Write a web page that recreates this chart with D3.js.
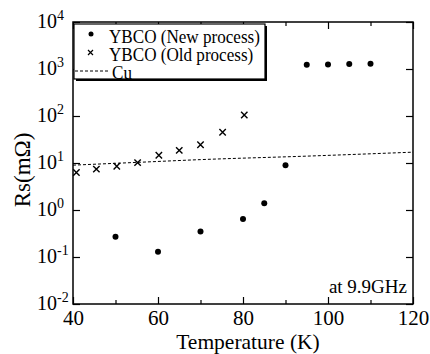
<!DOCTYPE html>
<html>
<head>
<meta charset="utf-8">
<script src="https://cdn.jsdelivr.net/npm/d3@7"></script>
</head>
<body style="margin:0">
<svg id="chart" width="430" height="354"></svg>
<script>
// Rs vs temperature, 9.9 GHz
const newTemps = [50, 60, 70, 80, 85, 90, 95, 100, 105, 110];
const newRs = [0.27, 0.13, 0.35, 0.64, 1.4, 9.0, 1230, 1250, 1270, 1300];

const oldTemps = [40.8, 45.5, 50.3, 55.2, 60.2, 65, 70, 75.2, 80.3];
const oldRs = [6.3, 7.4, 8.5, 10.2, 14.6, 18.6, 24.5, 45, 105];

const cuTemps = [40, 55, 70, 95, 120];
const cuRs = [9.0, 10.3, 11.8, 14.0, 17.0];

const xMajor = [40, 60, 80, 100, 120];
const xMinor = [50, 70, 90, 110];
const yMajor = [1e-2, 1e-1, 1e0, 1e1, 1e2, 1e3, 1e4];
const yExp = ["-2", "-1", "0", "1", "2", "3", "4"];

const legendLabels = ["YBCO (New process)", "YBCO (Old process)", "Cu"];

const FONT = "'Liberation Serif'";

const svg = d3.select("#chart");
const L = 73, R = 413, T = 22, B = 304;

const x = d3.scaleLinear().domain([40, 120]).range([L, R]);
const y = d3.scaleLog().domain([1e-2, 1e4]).range([B, T]);

// ticks (inward)
function styleAxis(g) {
  g.select(".domain").remove();
  g.selectAll(".tick line").attr("stroke", "#000").attr("stroke-width", 1.2);
  g.selectAll(".tick text").attr("font-family", FONT);
}

svg.append("g").attr("transform", `translate(0,${B})`)
  .call(d3.axisBottom(x).tickValues(xMajor).tickSize(-7).tickPadding(6).tickFormat(d3.format("d")))
  .call(styleAxis)
  .call(g => g.selectAll("text").attr("font-size", 21).attr("fill", "#000"));
svg.append("g").attr("transform", `translate(0,${B})`)
  .call(d3.axisBottom(x).tickValues(xMinor).tickSize(-4).tickFormat(""))
  .call(styleAxis);
svg.append("g").attr("transform", `translate(0,${T})`)
  .call(d3.axisTop(x).tickValues(xMajor).tickSize(-7).tickFormat(""))
  .call(styleAxis);
svg.append("g").attr("transform", `translate(0,${T})`)
  .call(d3.axisTop(x).tickValues(xMinor).tickSize(-4).tickFormat(""))
  .call(styleAxis);
svg.append("g").attr("transform", `translate(${L},0)`)
  .call(d3.axisLeft(y).tickValues(yMajor).tickSize(-7).tickFormat(""))
  .call(styleAxis);
svg.append("g").attr("transform", `translate(${R},0)`)
  .call(d3.axisRight(y).tickValues(yMajor).tickSize(-7).tickFormat(""))
  .call(styleAxis);

// y tick labels with superscripts
yMajor.forEach((v, i) => {
  const t = svg.append("text")
    .attr("x", 37).attr("y", y(v) + 6)
    .attr("font-family", FONT)
    .attr("font-size", 20).attr("fill", "#000");
  t.append("tspan").text("10");
  t.append("tspan").attr("dy", -8).attr("font-size", 14).text(yExp[i]);
});

// frame
svg.append("rect")
  .attr("x", L).attr("y", T).attr("width", R - L).attr("height", B - T)
  .attr("fill", "none").attr("stroke", "#000").attr("stroke-width", 1.5);

// Cu line
const line = d3.line().x(d => x(d[0])).y(d => y(d[1])).curve(d3.curveMonotoneX);
svg.append("path")
  .datum(cuTemps.map((t, i) => [t, cuRs[i]]))
  .attr("d", line)
  .attr("fill", "none").attr("stroke", "#000").attr("stroke-width", 1)
  .attr("stroke-dasharray", "3 2");

// old process crosses
const cs = 3.2;
svg.append("g").selectAll("path")
  .data(oldTemps.map((t, i) => [t, oldRs[i]]))
  .join("path")
  .attr("d", d => {
    const px = x(d[0]), py = y(d[1]);
    return `M${px - cs},${py - cs}L${px + cs},${py + cs}M${px - cs},${py + cs}L${px + cs},${py - cs}`;
  })
  .attr("stroke", "#000").attr("stroke-width", 1.4);

// new process dots
svg.append("g").selectAll("circle")
  .data(newTemps.map((t, i) => [t, newRs[i]]))
  .join("circle")
  .attr("cx", d => x(d[0])).attr("cy", d => y(d[1]))
  .attr("r", 3).attr("fill", "#000");

// legend
const lg = svg.append("g");
lg.append("rect").attr("x", 76).attr("y", 26).attr("width", 191).attr("height", 55)
  .attr("fill", "#000");
lg.append("rect").attr("x", 74).attr("y", 24).attr("width", 191).attr("height", 55)
  .attr("fill", "#fff").attr("stroke", "#000").attr("stroke-width", 1.2);
lg.append("circle").attr("cx", 91).attr("cy", 34).attr("r", 2.5).attr("fill", "#000");
lg.append("path").attr("d", `M88,50L93,55M88,55L93,50`).attr("stroke", "#000").attr("stroke-width", 1.2);
lg.append("line").attr("x1", 75).attr("x2", 110).attr("y1", 71).attr("y2", 71)
  .attr("stroke", "#000").attr("stroke-width", 1).attr("stroke-dasharray", "3 2");
[43, 61, 79].forEach((by, i) => {
  lg.append("text")
    .attr("transform", `translate(${i === 2 ? 112 : 109},${by}) scale(0.9,1)`)
    .attr("font-family", FONT)
    .attr("font-size", 19).attr("fill", "#000").text(legendLabels[i]);
});

// annotation
svg.append("text").attr("x", 407).attr("y", 293).attr("text-anchor", "end")
  .attr("font-family", FONT)
  .attr("font-size", 19).attr("fill", "#000").text("at 9.9GHz");

// axis titles
svg.append("text").attr("x", 248).attr("y", 349).attr("text-anchor", "middle")
  .attr("font-family", FONT)
  .attr("font-size", 21.5).attr("fill", "#000").text("Temperature (K)");
svg.append("text").attr("transform", "translate(30,170) rotate(-90)")
  .attr("font-family", FONT)
  .attr("text-anchor", "middle").attr("font-size", 23).attr("fill", "#000").text("Rs(mΩ)");
</script>
</body>
</html>
